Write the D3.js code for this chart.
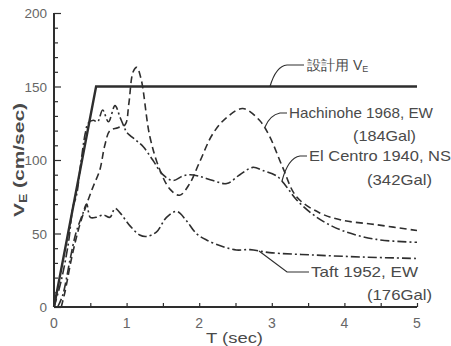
<!DOCTYPE html>
<html>
<head>
<meta charset="utf-8">
<script src="https://cdn.jsdelivr.net/npm/d3@7"></script>
<style>
  body { margin: 0; background: #fff; }
  text { font-family: "Liberation Sans", Arial, sans-serif; fill: #4a4a4a; }
</style>
</head>
<body>
<svg id="chart" width="451" height="346"></svg>
<script>
// period T (sec) / velocity spectrum V_E (cm/sec)
var designT = [0, 0.58, 5];
var designV = [0, 150, 150];

var hachiT = [0.1, 0.15, 0.25, 0.35, 0.45, 0.54, 0.63, 0.7, 0.77, 0.88, 0.98, 1.03, 1.09, 1.14, 1.2, 1.32, 1.46, 1.6, 1.73, 1.87, 2.0, 2.19, 2.38, 2.6, 2.83, 2.97, 3.15, 3.34, 3.66, 3.97, 4.44, 5];
var hachiV = [0, 10, 35, 55, 70, 82, 93, 110, 120, 122, 124, 138, 160, 163, 155, 116, 93, 80, 76, 84, 98, 118, 129, 135, 127, 116, 95, 75, 64, 59, 56, 52];

var elcT = [0, 0.1, 0.2, 0.26, 0.31, 0.37, 0.43, 0.47, 0.54, 0.6, 0.67, 0.75, 0.84, 0.91, 0.97, 1.0, 1.14, 1.23, 1.36, 1.5, 1.64, 1.77, 1.87, 2.0, 2.19, 2.38, 2.56, 2.74, 2.87, 3.07, 3.2, 3.34, 3.62, 3.97, 4.44, 5];
var elcV = [0, 18, 44, 68, 76, 98, 118, 125, 127, 126, 134, 126, 137, 129, 122, 119, 113, 109, 100, 90, 86, 89, 90, 89, 86, 84, 90, 95, 93, 89, 82, 73, 61, 52, 46, 44];

var taftT = [0.05, 0.12, 0.22, 0.3, 0.37, 0.4, 0.45, 0.5, 0.58, 0.68, 0.77, 0.84, 0.91, 1.05, 1.18, 1.27, 1.41, 1.55, 1.69, 1.82, 1.96, 2.1, 2.33, 2.51, 2.7, 2.97, 3.56, 4.25, 5];
var taftV = [0, 8, 32, 50, 60, 64, 70, 61, 61, 62.6, 61, 67, 64, 55, 49, 48, 51, 61, 65, 59, 50, 45.6, 41, 38.8, 39, 37, 35.4, 34, 33];

var xTicks = [0, 1, 2, 3, 4, 5];
var yTicks = [0, 50, 100, 150, 200];

var svg = d3.select("#chart");
var x = d3.scaleLinear().domain([0, 5]).range([54, 417]);
var y = d3.scaleLinear().domain([0, 200]).range([307, 13]);
var ink = "#2e2e2e";

function pts(ts, vs) { return ts.map(function(t, i) { return [t, vs[i]]; }); }

// axes
var yAxis = svg.append("g").attr("transform", "translate(" + x(0) + ",0)")
  .call(d3.axisRight(y).tickValues(d3.range(0, 201, 10)).tickSize(4).tickFormat(""));
yAxis.selectAll(".tick line").attr("stroke", ink).attr("stroke-width", 1.2)
  .attr("x2", function(d) { return d % 50 === 0 ? 7 : 4; });
yAxis.select(".domain").attr("stroke", ink).attr("stroke-width", 2).attr("d", "M0," + y(200) + "V" + y(0));

var xAxis = svg.append("g").attr("transform", "translate(0," + y(0) + ")")
  .call(d3.axisTop(x).tickValues(d3.range(0, 5.01, 0.5)).tickSize(4).tickFormat(""));
xAxis.selectAll(".tick line").attr("stroke", ink).attr("stroke-width", 1.2);
xAxis.select(".domain").attr("stroke", ink).attr("stroke-width", 2).attr("d", "M" + x(0) + ",0H" + x(5));

svg.selectAll(".ylab").data(yTicks).enter().append("text")
  .attr("x", x(0) - 7).attr("y", function(d) { return y(d) + 5; })
  .attr("text-anchor", "end").style("font-size", "13.5px").style("fill", "#666")
  .text(function(d) { return d; });
svg.selectAll(".xlab").data(xTicks).enter().append("text")
  .attr("x", function(d) { return x(d); }).attr("y", y(0) + 21)
  .attr("text-anchor", "middle").style("font-size", "14px").style("fill", "#666")
  .text(function(d) { return d; });

svg.append("text").attr("x", 206).attr("y", 343)
  .attr("textLength", 57).attr("lengthAdjust", "spacingAndGlyphs")
  .style("font-size", "15px").text("T (sec)");

var yl = svg.append("text").attr("transform", "translate(24,160) rotate(-90)")
  .attr("text-anchor", "middle").attr("textLength", 114).attr("lengthAdjust", "spacingAndGlyphs")
  .style("font-size", "15px").style("font-weight", "bold");
yl.append("tspan").text("V");
yl.append("tspan").attr("dy", 3).style("font-size", "10px").text("E");
yl.append("tspan").attr("dy", -3).text(" (cm/sec)");

// curves
var line = d3.line().x(function(d) { return x(d[0]); }).y(function(d) { return y(d[1]); });
var smooth = d3.line().x(function(d) { return x(d[0]); }).y(function(d) { return y(d[1]); })
  .curve(d3.curveCatmullRom.alpha(0.5));

svg.append("path").attr("d", line(pts(designT, designV)))
  .attr("fill", "none").attr("stroke", ink).attr("stroke-width", 2.4);
svg.append("path").attr("d", smooth(pts(hachiT, hachiV)))
  .attr("fill", "none").attr("stroke", ink).attr("stroke-width", 1.6).attr("stroke-dasharray", "7,4");
svg.append("path").attr("d", smooth(pts(elcT, elcV)))
  .attr("fill", "none").attr("stroke", ink).attr("stroke-width", 1.6).attr("stroke-dasharray", "9,3,2,3");
svg.append("path").attr("d", smooth(pts(taftT, taftV)))
  .attr("fill", "none").attr("stroke", ink).attr("stroke-width", 1.6).attr("stroke-dasharray", "9,3,2,3");

// labels with leader lines
function leader(pathD) {
  svg.append("path").attr("d", pathD).attr("fill", "none").attr("stroke", ink).attr("stroke-width", 1.2);
}
function label(tx, ty, str, len, anchor) {
  svg.append("text").attr("x", tx).attr("y", ty).attr("text-anchor", anchor || "start")
    .attr("textLength", len).attr("lengthAdjust", "spacingAndGlyphs")
    .style("font-size", "15px").text(str);
}

leader("M304,65 H287 Q276,66 270," + y(150));
var dl = svg.append("text").attr("x", 307).attr("y", 70).style("font-size", "14px");
dl.append("tspan").text("設計用 V");
dl.append("tspan").attr("dy", 2).style("font-size", "9px").text("E");

leader("M287,113 H280 Q270,115 265,127");
label(289, 118, "Hachinohe 1968, EW", 144);
label(353, 141, "(184Gal)", 63);

leader("M307,156 H300 Q288,158 282,181");
label(309, 161, "El Centro 1940, NS", 142);
label(367, 185, "(342Gal)", 65);

leader("M309,272 H287 L259,251");
label(311, 277, "Taft 1952, EW", 107);
label(367, 300, "(176Gal)", 65);
</script>
</body>
</html>
